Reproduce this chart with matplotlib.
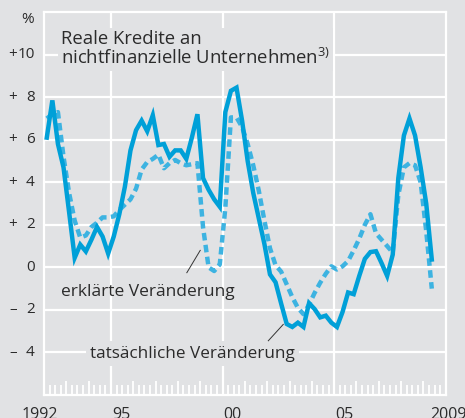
import numpy as np
from matplotlib import pyplot as plt
import matplotlib.transforms as mtransforms

plt.rcParams['font.family'] = ['Open Sans', 'DejaVu Sans']

# quarterly values, 1992 Q1 .. 2009 Q2
start_year = 1992.125
actual = [6.1, 7.85, 5.8, 4.7, 2.6, 0.45, 1.07, 0.75, 1.3, 1.9, 1.45, 0.65,
          1.45, 2.5, 3.8, 5.5, 6.45, 6.9, 6.4, 7.15, 5.75, 5.8, 5.2, 5.5,
          5.5, 5.1, 6.1, 7.2, 4.2, 3.65, 3.2, 2.85, 7.3, 8.3, 8.45, 6.9,
          5.0, 3.5, 2.3, 1.1, -0.33, -0.7, -1.7, -2.66, -2.8, -2.6, -2.8, -1.68,
          -1.96, -2.35, -2.27, -2.6, -2.8, -2.1, -1.18, -1.26, -0.4, 0.4, 0.72, 0.76,
          0.2, -0.4, 0.6, 4.2, 6.2, 7.0, 6.2, 4.7, 3.0, 0.37]
explained = [7.0, 7.2, 7.3, 5.2, 3.5, 2.2, 1.4, 1.5, 1.9, 2.1, 2.35, 2.35,
             2.4, 2.7, 2.95, 3.2, 3.7, 4.6, 4.95, 5.1, 5.3, 4.66, 4.9, 5.05,
             4.9, 4.8, 4.85, 4.9, 1.9, 0.0, -0.17, 0.14, 2.8, 7.05, 7.05, 6.6,
             5.8, 4.8, 3.6, 2.2, 0.9, 0.1, -0.2, -0.8, -1.4, -1.9, -2.2, -1.75,
             -1.2, -0.72, -0.3, 0.05, -0.1, 0.05, 0.3, 0.8, 1.35, 2.0, 2.5, 1.6,
             1.3, 1.0, 0.7, 3.4, 4.7, 4.9, 4.8, 4.0, 1.7, -1.0]
t = start_year + 0.25 * np.arange(len(actual))

ytick_vals = [10, 8, 6, 4, 2, 0, -2, -4]
ytick_signs = ['+', '+', '+', '+', '+', '', '\u2013', '\u2013']
ytick_nums = ['10', '8', '6', '4', '2', '0', '2', '4']
year_grid = [1995, 2000, 2005]
year_labels = [(1991.0, '1992'), (1995.05, '95'), (2000.05, '00'), (2005.05, '05'), (2009.3, '2009')]

bg = '#e1e2e4'
txt = '#2b2b2b'

fig = plt.figure(figsize=(4.65, 4.18), dpi=100)
fig.patch.set_facecolor(bg)
ax = fig.add_axes([0.0946, 0.055, 0.864, 0.916])
ax.set_facecolor(bg)
ax.set_xlim(1992, 2010)
ax.set_ylim(-6, 12)

for v in ytick_vals:
    ax.axhline(v, color='white', lw=1.6, zorder=1)
for yr in year_grid:
    ax.axvline(yr, color='white', lw=1.6, zorder=1)
for s in ax.spines.values():
    s.set_color('white')
    s.set_linewidth(1.6)

# quarter / year ticks along the bottom
ax.set_xticks(np.arange(1992, 2011, 1))
ax.set_xticks(np.arange(1992, 2010, 0.25), minor=True)
ax.tick_params(axis='x', which='major', direction='in', length=10, width=1.3,
               color='white', labelbottom=False)
ax.tick_params(axis='x', which='minor', direction='in', length=7.5, width=1.3,
               color='white')
ax.set_yticks([])

ax.plot(t, explained, color='#3db3e1', lw=3.2, dashes=(1.7, 1.0), zorder=3)
ax.plot(t, actual, color='#00a0d8', lw=3.2, zorder=4, solid_joinstyle='miter')

ytr = mtransforms.blended_transform_factory(fig.transFigure, ax.transData)
for v, s, n in zip(ytick_vals, ytick_signs, ytick_nums):
    if s:
        ax.text(0.028, v, s, transform=ytr, ha='center', va='center',
                fontsize=11, color=txt)
    ax.text(0.075, v, n, transform=ytr, ha='right', va='center',
            fontsize=11, color=txt)
ax.text(0.06, 0.953, '%', transform=fig.transFigure, ha='center', va='center',
        fontsize=11, color=txt)

xtr = mtransforms.blended_transform_factory(ax.transData, fig.transFigure)
for x, lab in year_labels:
    ax.text(x, -0.011, lab, transform=xtr, ha='left', va='bottom',
            fontsize=11.5, color=txt, clip_on=False)

ax.text(1992.75, 10.25, 'Reale Kredite an\nnichtfinanzielle Unternehmen$^{\\mathregular{3)}}$',
        fontsize=13.3, color=txt, ha='left', va='center', linespacing=1.0,
        zorder=5, bbox=dict(facecolor=bg, edgecolor='none', pad=2))
ax.text(1992.75, -1.15, 'erklärte Veränderung', fontsize=12.5, color=txt,
        ha='left', va='center', zorder=5)
ax.text(1994.05, -4.05, 'tatsächliche Veränderung', fontsize=12.3, color=txt,
        ha='left', va='center', zorder=5,
        bbox=dict(facecolor=bg, edgecolor='none', pad=3))
ax.plot([1998.4, 1999.0], [-0.25, 0.8], color='#333333', lw=0.7, zorder=5)
ax.plot([2002.05, 2002.72], [-3.45, -2.68], color='#333333', lw=0.7, zorder=5)

fig.savefig('out.png', dpi=100, facecolor=bg)
